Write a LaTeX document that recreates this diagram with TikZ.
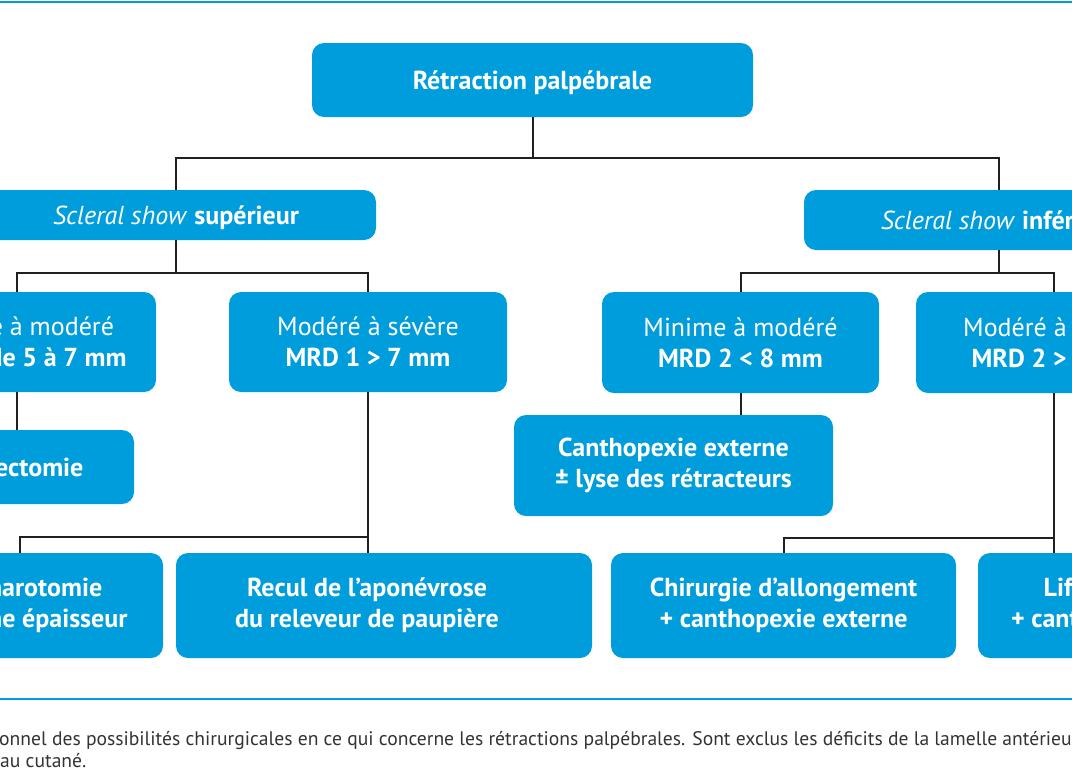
\documentclass[tikz,border=0pt]{standalone}
\usepackage{fontspec}
\setmainfont{PT Sans}
\definecolor{chartblue}{RGB}{0,157,221}
\definecolor{linkgray}{RGB}{35,31,32}
\definecolor{capgray}{RGB}{51,51,51}
\newcommand{\boxfont}{\fontsize{26}{31}\selectfont}
\newcommand{\capfont}{\fontsize{19.6}{22}\selectfont}
\tikzset{
  box/.style={fill=chartblue, rounded corners=12pt, text=white, align=center, font=\boxfont, inner sep=0pt},
  boldbox/.style={box, font=\boxfont\bfseries},
  boxtext/.style={text=white, align=center, font=\boxfont\bfseries, inner sep=0pt},
  link/.style={draw=linkgray, line width=2pt},
  rule/.style={draw=chartblue, line width=2.5pt},
  caption/.style={text=capgray, font=\capfont, inner sep=0pt, anchor=base west}
}

\begin{document}
\begin{tikzpicture}[x=1pt,y=-1pt]
    \useasboundingbox (0,0) rectangle (1072,772);
    \clip (0,0) rectangle (1072,772);
    % Blue rules
    \draw[rule] (0,2)--(1072,2);
    \draw[rule] (0,699)--(1072,699);
    % Root
    \node[boldbox, text depth=0pt, minimum width=441pt, minimum height=74pt] (root) at (532.5,80) {Rétraction palpébrale};
    % Scleral show
    \node[box, text depth=0pt, minimum width=400pt, minimum height=50pt] (supL) at (176,215) {\textit{Scleral show} \textbf{supérieur}};
    \node[box, text depth=0pt, minimum width=390pt, minimum height=60pt] (infR) at (999,220) {\textit{Scleral show} \textbf{inférieur}};
    % Severity
    \node[box, minimum width=278pt, minimum height=100pt] (minL) at (17,342) {Minime à modéré\\\textbf{MRD 1 de 5 à 7 mm}};
    \node[box, minimum width=278pt, minimum height=100pt] (modL) at (368,342) {Modéré à sévère\\\textbf{MRD 1 > 7 mm}};
    \node[box, minimum width=277pt, minimum height=101pt] (minR) at (740.5,342.5) {Minime à modéré\\\textbf{MRD 2 < 8 mm}};
    \node[box, minimum width=276pt, minimum height=101pt] (modR) at (1054,342.5) {Modéré à sévère\\\textbf{MRD 2 > 8 mm}};
    % Surgery
    \node[boldbox, minimum width=234pt, minimum height=74pt] (muller) at (17,467) {};
    \node[boxtext] (mullerT) at (3,467) {Müllerectomie};
    \node[boldbox, minimum width=319pt, minimum height=101pt] (canth) at (673.5,465.5) {Canthopexie externe\\± lyse des rétracteurs};
    \node[boldbox, minimum width=286pt, minimum height=105pt] (bleph) at (20,605.5) {Blépharotomie\\de pleine épaisseur};
    \node[boldbox, minimum width=416pt, minimum height=105pt] (recul) at (384,605.5) {};
    \node[boxtext] (reculT) at (367,605.5) {Recul de l’aponévrose\\du releveur de paupière};
    \node[boldbox, minimum width=345pt, minimum height=105pt] (chir) at (783.5,605.5) {Chirurgie d’allongement\\+ canthopexie externe};
    \node[boldbox, minimum width=314pt, minimum height=105pt] (lift) at (1135,605.5) {Lift médio-facial\\+ canthopexie externe};
    % Links
    \draw[link] (root.south) -- ++(0,41) -| (supL.north);
    \draw[link] (root.south) -- ++(0,41) -| (infR.north);
    \draw[link] (supL.south) -- ++(0,33) -| (minL.north);
    \draw[link] (supL.south) -- ++(0,33) -| (modL.north);
    \draw[link] (infR.south) -- ++(0,23) -| (minR.north);
    \draw[link] (infR.south) -- ++(0,23) -| (modR.north);
    \draw[link] (minL.south) -- (muller.north);
    \draw[link] (modL.south) -- (modL.south |- recul.north);
    \draw[link] (modL.south) ++(0,145) -| (bleph.north);
    \draw[link] (minR.south) -- (minR.south |- canth.north);
    \draw[link] (modR.south) -- (modR.south |- lift.north);
    \draw[link] (modR.south) ++(0,144.5) -| (chir.north);
    % Caption
    \node[caption] (cap1) at (-1,745) {onnel des possibilités chirurgicales en ce qui concerne les rétractions palpébrales. Sont exclus les déficits de la lamelle antérieure};
    \node[caption] (cap2) at (0,767) {au cutané.};
\end{tikzpicture}
\end{document}
